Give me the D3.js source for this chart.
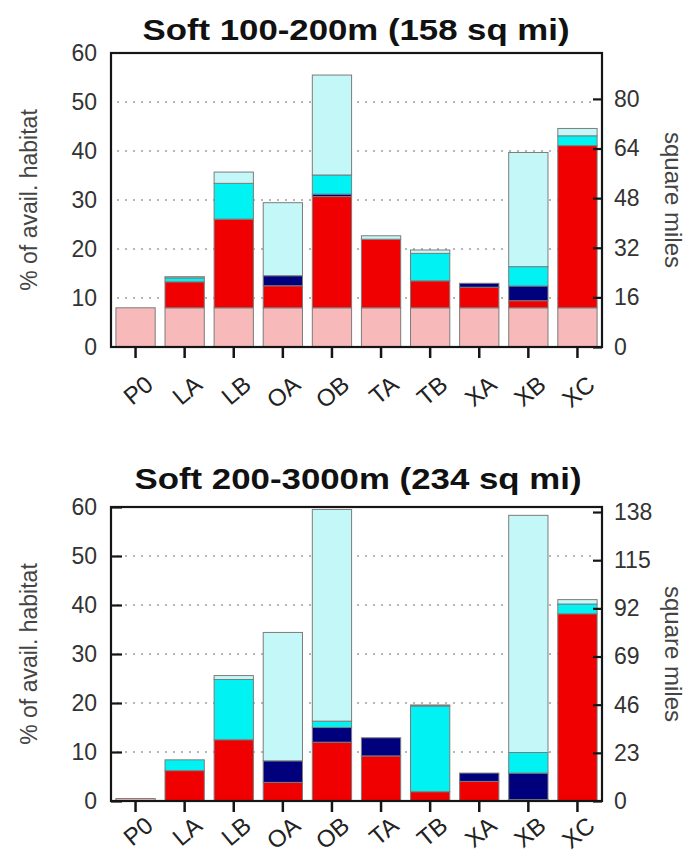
<!DOCTYPE html>
<html>
<head>
<meta charset="utf-8">
<script src="https://cdn.jsdelivr.net/npm/d3@7"></script>
<style>
  html, body { margin: 0; padding: 0; background: #fff; }
  svg { display: block; font-family: "Liberation Sans", Arial, sans-serif; }
</style>
</head>
<body>
<svg id="chart" width="698" height="856"></svg>
<script>
// ---------- data ----------
const categories = ["P0", "LA", "LB", "OA", "OB", "TA", "TB", "XA", "XB", "XC"];
const seriesNames = ["base", "red", "navy", "cyan", "light"];
const seriesColors = ["#f7b9b9", "#f00000", "#00007d", "#00f2f2", "#c4f8f8"];

// Panel 1: Soft 100-200m (158 sq mi), % of available habitat
const title1 = "Soft 100-200m (158 sq mi)";
const area1 = 158;
const base1  = [8, 8, 8, 8, 8, 8, 8, 8, 8, 8];
const red1   = [0, 5.3, 18.1, 4.5, 22.7, 14.0, 5.5, 4.2, 1.45, 33.1];
const navy1  = [0, 0, 0, 2.05, 0.5, 0, 0, 0.8, 3.0, 0];
const cyan1  = [0, 0.8, 7.3, 0, 3.9, 0, 5.6, 0, 3.95, 2.0];
const light1 = [0, 0.25, 2.3, 14.9, 20.4, 0.7, 0.7, 0, 23.3, 1.5];
const rightTicks1 = [0, 16, 32, 48, 64, 80];

// Panel 2: Soft 200-3000m (234 sq mi)
const title2 = "Soft 200-3000m (234 sq mi)";
const area2 = 234;
const base2  = [0.5, 0, 0, 0, 0, 0, 0, 0, 0, 0];
const red2   = [0, 6.2, 12.5, 3.8, 12.0, 9.2, 1.9, 4.0, 0.3, 38.2];
const navy2  = [0, 0, 0, 4.4, 3.0, 3.7, 0, 1.7, 5.4, 0];
const cyan2  = [0, 2.2, 12.3, 0, 1.3, 0, 17.5, 0, 4.2, 2.0];
const light2 = [0, 0, 0.8, 26.2, 43.2, 0, 0.2, 0, 48.4, 0.9];
const rightTicks2 = [0, 23, 46, 69, 92, 115, 138];

const leftTicks = [0, 10, 20, 30, 40, 50, 60];
const gridTicks = [10, 20, 30, 40, 50];
const leftTitle = "% of avail. habitat";
const rightTitle = "square miles";

const svg = d3.select("#chart");

function drawPanel(opt) {
  const { top, bottom, title, titleWidth, titleX, titleY, area, layers, rightTicks, leftInnerTicks, labelY } = opt;
  const left = 111, right = 602;
  const g = svg.append("g");

  const x = d3.scaleBand().domain(categories).range([left, right]).paddingInner(0.2).paddingOuter(0.1);
  const y = d3.scaleLinear().domain([0, 60]).range([bottom, top]);
  const y2 = d3.scaleLinear().domain([0, 0.6 * area]).range([bottom, top]);

  // title
  g.append("text")
    .attr("x", titleX).attr("y", titleY)
    .attr("text-anchor", "middle")
    .attr("font-size", 30).attr("font-weight", "bold")
    .attr("fill", "#111")
    .attr("textLength", titleWidth).attr("lengthAdjust", "spacingAndGlyphs")
    .text(title);

  // gridlines
  g.append("g").selectAll("line").data(gridTicks).join("line")
    .attr("x1", left + 6).attr("x2", right - 6)
    .attr("y1", d => y(d)).attr("y2", d => y(d))
    .attr("stroke", "#a0a0a0").attr("stroke-width", 1.3)
    .attr("stroke-dasharray", "2,6");

  // stacked bars
  const rows = categories.map((c, i) => {
    const r = { cat: c };
    seriesNames.forEach((s, k) => r[s] = layers[k][i]);
    return r;
  });
  const stacked = d3.stack().keys(seriesNames)(rows);
  stacked.forEach((layer, k) => {
    g.append("g").selectAll("rect")
      .data(layer.filter(d => d[1] - d[0] > 0))
      .join("rect")
      .attr("x", d => x(d.data.cat))
      .attr("width", x.bandwidth())
      .attr("y", d => y(d[1]))
      .attr("height", d => y(d[0]) - y(d[1]))
      .attr("fill", seriesColors[k])
      .attr("stroke", "#7c7c7c").attr("stroke-width", 1);
  });

  // box
  g.append("rect")
    .attr("x", left).attr("y", top)
    .attr("width", right - left).attr("height", bottom - top)
    .attr("fill", "none").attr("stroke", "#151515").attr("stroke-width", 2.2);

  // left axis
  const la = g.append("g").attr("transform", `translate(${left},0)`)
    .call(d3.axisLeft(y).tickValues(leftTicks).tickSize(leftInnerTicks ? -11 : 0).tickPadding(leftInnerTicks ? -2 : 9));
  la.select(".domain").remove();
  la.selectAll(".tick line").attr("stroke", "#151515").attr("stroke-width", 2.2);
  la.selectAll("text").attr("font-size", 23).attr("fill", "#333")
    .attr("font-family", "Liberation Sans, Arial, sans-serif")
    .attr("x", -14);

  // right axis (square miles)
  const ra = g.append("g").attr("transform", `translate(${right},0)`)
    .call(d3.axisRight(y2).tickValues(rightTicks).tickSize(-9).tickPadding(12));
  ra.select(".domain").remove();
  ra.selectAll(".tick line").attr("stroke", "#151515").attr("stroke-width", 2.2);
  ra.selectAll("text").attr("font-size", 23).attr("fill", "#333")
    .attr("font-family", "Liberation Sans, Arial, sans-serif")
    .attr("x", 12);

  // bottom axis
  const ba = g.append("g").attr("transform", `translate(0,${bottom})`)
    .call(d3.axisBottom(x).tickSize(11).tickPadding(4));
  ba.select(".domain").remove();
  ba.selectAll(".tick line").attr("stroke", "#151515").attr("stroke-width", 2.5);
  ba.selectAll("text")
    .attr("font-size", 24).attr("fill", "#222")
    .attr("font-family", "Liberation Sans, Arial, sans-serif")
    .attr("text-anchor", "end")
    .attr("x", 0).attr("y", 0).attr("dy", "0.72em")
    .attr("transform", `translate(8,${labelY - bottom}) rotate(-40)`);

  // axis titles
  const midY = (top + bottom) / 2;
  g.append("text")
    .attr("transform", `translate(37,${midY}) rotate(-90)`)
    .attr("text-anchor", "middle")
    .attr("font-size", 23).attr("fill", "#444")
    .text(leftTitle);
  g.append("text")
    .attr("transform", `translate(665,${midY - 0}) rotate(90)`)
    .attr("text-anchor", "middle")
    .attr("font-size", 24).attr("fill", "#444")
    .text(rightTitle);
}

drawPanel({
  top: 53, bottom: 347, title: title1, titleWidth: 427, titleX: 356, titleY: 40,
  area: area1, layers: [base1, red1, navy1, cyan1, light1],
  rightTicks: rightTicks1, leftInnerTicks: false, labelY: 374
});
drawPanel({
  top: 507, bottom: 801, title: title2, titleWidth: 447, titleX: 358, titleY: 489,
  area: area2, layers: [base2, red2, navy2, cyan2, light2],
  rightTicks: rightTicks2, leftInnerTicks: true, labelY: 815
});
</script>
</body>
</html>
